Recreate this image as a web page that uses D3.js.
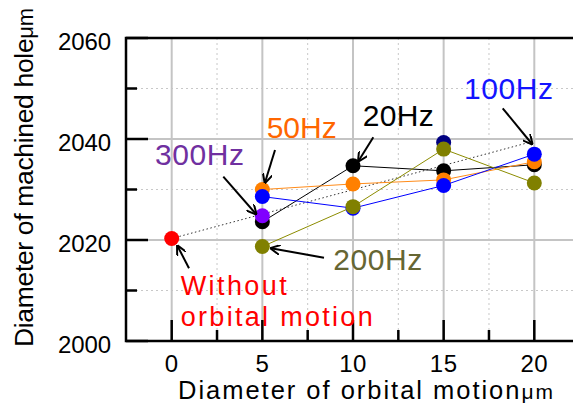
<!DOCTYPE html>
<html><head><meta charset="utf-8">
<script src="https://cdn.jsdelivr.net/npm/d3@7"></script>
<style>
html,body{margin:0;padding:0;background:#fff;}
svg{display:block;font-family:"Liberation Sans",Arial,sans-serif;}
</style></head>
<body><svg id="c" width="573" height="403"></svg>
<script>
// ---- data ----
const orbitDiam = [5, 10, 15, 20];
const xTicks = [0, 5, 10, 15, 20];
const xMinor = [2.5, 7.5, 12.5, 17.5];
const yTicks = [2000, 2020, 2040, 2060];
const yMinor = [2010, 2030, 2050];
const without = [{x: 0, y: 2020.3}];
const trendLine = [{x: 0, y: 2020.3}, {x: 20, y: 2039.6}];
const hz20  = [2023.6, 2034.7, 2033.7, 2034.9];
const hz50  = [2030.0, 2031.1, 2031.9, 2035.5];
const hz100 = [2028.6, 2026.3, 2030.8, 2037.0];
const hz200 = [2018.7, 2026.6, 2038.0, 2031.3];
const hz300 = [{x: 5, y: 2024.8}];
const extraPt = [{x: 15, y: 2039.3}];

const svg = d3.select("#c");
const x = d3.scaleLinear().domain([0, 20]).range([171.7, 534.3]);
const y = d3.scaleLinear().domain([2000, 2060]).range([341, 38]);
const X0 = 126, X1 = 580, Y0 = 341, Y1 = 38;

// grid
const g = svg.append("g");
g.selectAll(".vmin").data(xMinor).join("line")
  .attr("x1", d => x(d)).attr("x2", d => x(d)).attr("y1", Y1).attr("y2", Y0)
  .attr("stroke", "#c8c8c8").attr("stroke-width", 1).attr("stroke-dasharray", "2,3");
g.selectAll(".hmin").data(yMinor).join("line")
  .attr("x1", X0).attr("x2", X1).attr("y1", d => y(d)).attr("y2", d => y(d))
  .attr("stroke", "#c8c8c8").attr("stroke-width", 1).attr("stroke-dasharray", "2,3");
g.selectAll(".vmaj").data(xTicks).join("line")
  .attr("x1", d => x(d)).attr("x2", d => x(d)).attr("y1", Y1).attr("y2", Y0)
  .attr("stroke", "#c4c4c4").attr("stroke-width", 2);
g.selectAll(".hmaj").data(yTicks.slice(1, 3)).join("line")
  .attr("x1", X0).attr("x2", X1).attr("y1", d => y(d)).attr("y2", d => y(d))
  .attr("stroke", "#c4c4c4").attr("stroke-width", 2);

// ticks
const t = svg.append("g").attr("stroke", "#000");
t.selectAll(".xt").data(xTicks).join("line")
  .attr("x1", d => x(d)).attr("x2", d => x(d)).attr("y1", Y0 - 21).attr("y2", Y0).attr("stroke-width", 2.5);
t.selectAll(".xm").data(xMinor).join("line")
  .attr("x1", d => x(d)).attr("x2", d => x(d)).attr("y1", Y0 - 11).attr("y2", Y0).attr("stroke-width", 2.5);
t.selectAll(".yt").data(yTicks).join("line")
  .attr("x1", X0).attr("x2", X0 + 22).attr("y1", d => y(d)).attr("y2", d => y(d)).attr("stroke-width", 2.5);
t.selectAll(".ym").data(yMinor).join("line")
  .attr("x1", X0).attr("x2", X0 + 11).attr("y1", d => y(d)).attr("y2", d => y(d)).attr("stroke-width", 2.5);

// frame
svg.append("path").attr("d", `M${X1},${Y1}H${X0}V${Y0}H${X1}`)
  .attr("fill", "none").attr("stroke", "#000").attr("stroke-width", 2.5);

// tick labels
svg.selectAll(".xl").data(xTicks).join("text")
  .attr("x", d => x(d)).attr("y", 372).attr("text-anchor", "middle")
  .attr("font-size", 24).attr("letter-spacing", 0.5).text(d => d);
svg.selectAll(".yl").data(yTicks).join("text")
  .attr("x", 111).attr("y", d => y(d) + 12).attr("text-anchor", "end")
  .attr("font-size", 24).attr("textLength", 53).attr("lengthAdjust", "spacing").text(d => d);

// axis titles
const xt = svg.append("text").attr("x", 178).attr("y", 399).attr("font-size", 25.5)
  .attr("textLength", 375).attr("lengthAdjust", "spacing");
xt.append("tspan").text("Diameter of orbital motion");
xt.append("tspan").attr("font-size", 21).text("μm");
const yt = svg.append("text").attr("transform", "translate(33,347) rotate(-90)")
  .attr("font-size", 26.5).attr("textLength", 339).attr("lengthAdjust", "spacing");
yt.append("tspan").text("Diameter of machined hole");
yt.append("tspan").attr("font-size", 22).text("μm");

// trend line
const line = d3.line().x(d => x(d.x)).y(d => y(d.y));
svg.append("path").attr("d", line(trendLine)).attr("fill", "none")
  .attr("stroke", "#333").attr("stroke-width", 1).attr("stroke-dasharray", "1.5,2.5");

const toPts = arr => arr.map((v, i) => ({x: orbitDiam[i], y: v}));
const series = [
  {vals: hz20, color: "#000000", lc: "#000000"},
  {vals: hz50, color: "#ff8000", lc: "#ff8c1a"},
  {vals: hz100, color: "#0000ff", lc: "#0000ff"},
  {vals: hz200, color: "#808000", lc: "#8c8c00"}
];
series.forEach(s => {
  svg.append("path").attr("d", line(toPts(s.vals))).attr("fill", "none")
    .attr("stroke", s.lc).attr("stroke-width", 1);
});
function dots(data, color) {
  svg.append("g").selectAll("circle").data(data).join("circle")
    .attr("cx", d => x(d.x)).attr("cy", d => y(d.y)).attr("r", 7.5).attr("fill", color);
}
dots(extraPt, "#000080");
dots(toPts(hz20), "#000000");
dots(toPts(hz50), "#ff8000");
dots(toPts(hz100), "#0000ff");
dots(toPts(hz200), "#808000");
dots(hz300, "#8000ff");
dots(without, "#ff0000");

// annotations
svg.append("defs").append("marker").attr("id", "ah").attr("viewBox", "0 0 10 10")
  .attr("refX", 9).attr("refY", 5).attr("markerWidth", 5).attr("markerHeight", 5)
  .attr("orient", "auto").append("path").attr("d", "M0,0L10,5L0,10").attr("fill", "none")
  .attr("stroke", "#000").attr("stroke-width", 2);
const arrows = [
  [223.3, 176.7, 256, 214],
  [275, 150, 265, 182.5],
  [373.3, 137.3, 358.5, 161],
  [502.7, 108.3, 532, 144],
  [324, 257.7, 271, 248.3],
  [189, 268.3, 177.5, 246]
];
svg.selectAll(".arr").data(arrows).join("line")
  .attr("x1", d => d[0]).attr("y1", d => d[1]).attr("x2", d => d[2]).attr("y2", d => d[3])
  .attr("stroke", "#000").attr("stroke-width", 2).attr("marker-end", "url(#ah)");

const labels = [
  {t: "300Hz", x: 155, y: 165, c: "#7030a0", w: 89},
  {t: "50Hz", x: 266.7, y: 138, c: "#ff6600", w: 70},
  {t: "20Hz", x: 362.7, y: 126, c: "#000000", w: 71},
  {t: "100Hz", x: 464, y: 98.5, c: "#1414ff", w: 89},
  {t: "200Hz", x: 333.3, y: 269.5, c: "#666633", w: 89}
];
svg.selectAll(".lab").data(labels).join("text")
  .attr("x", d => d.x).attr("y", d => d.y).attr("fill", d => d.c)
  .attr("font-size", 30).attr("textLength", d => d.w).attr("lengthAdjust", "spacing")
  .text(d => d.t);

// two-line label
const woLines = [
  {t: "Without", y: 295, w: 106},
  {t: "orbital motion", y: 325.5, w: 192}
];
svg.selectAll(".wo").data(woLines).join("text")
  .attr("x", 180.7).attr("y", d => d.y).attr("fill", "#ff0000").attr("font-size", 27)
  .attr("textLength", d => d.w).attr("lengthAdjust", "spacing").text(d => d.t);
</script></body></html>
